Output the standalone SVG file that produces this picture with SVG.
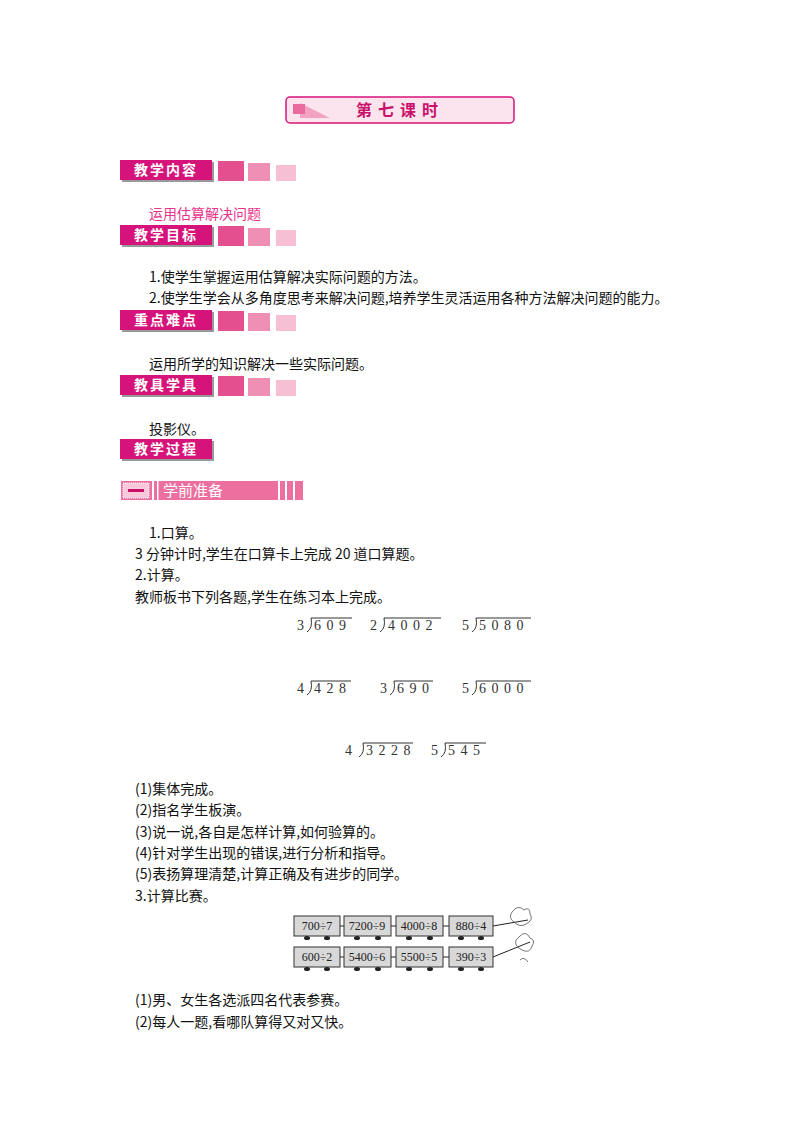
<svg xmlns="http://www.w3.org/2000/svg" width="800" height="1132" viewBox="0 0 800 1132">
<style>
.t{font-family:"Noto Sans CJK SC","Liberation Sans",sans-serif;font-size:14px;fill:#111}
.p{fill:#e8338a}
.lab{font-family:"Noto Sans CJK SC",sans-serif;font-size:14px;fill:#fff;font-weight:bold}
.d{font-family:"Liberation Serif",serif;font-size:14px;fill:#333;letter-spacing:5.5px}
.car{fill:#d8d8d8;stroke:#333;stroke-width:1}
.ct{font-family:"Liberation Serif",serif;font-size:12px;fill:#222}
.dv{fill:none;stroke:#333;stroke-width:1}
</style>
<defs>
<g id="sq"><rect x="0" y="0" width="26" height="20" fill="#e4508f"/><rect x="30" y="2" width="22" height="18" fill="#ee8fb3"/><rect x="58" y="4" width="20" height="16" fill="#f6bfd3"/></g>
<g id="lb"><rect x="2" y="2" width="92" height="20" fill="#999"/><rect x="0" y="0" width="92" height="20" fill="#d6137a"/></g>
</defs>
<g id="title"><rect x="286" y="97" width="228" height="26" rx="4" fill="#fce4ee" stroke="#d6137a" stroke-width="1.5"/>
<path d="M300 103 L330 118 L300 118Z" fill="#f3a2c2"/><rect x="293" y="104" width="12" height="10" fill="#e96b9e"/>
<text x="400" y="116" text-anchor="middle" style="font-family:'Noto Sans CJK SC',sans-serif;font-size:16px;font-weight:bold;fill:#c8106b;letter-spacing:6px">第七课时</text></g>
<g id="h1"><use href="#lb" x="120" y="160"/><text class="lab" x="166" y="175" text-anchor="middle" letter-spacing="2">教学内容</text><use href="#sq" x="218" y="161"/></g>
<text class="t p" x="149" y="219">运用估算解决问题</text>
<g id="h2"><use href="#lb" x="120" y="225"/><text class="lab" x="166" y="240" text-anchor="middle" letter-spacing="2">教学目标</text><use href="#sq" x="218" y="226"/></g>
<text class="t" x="149" y="282">1.使学生掌握运用估算解决实际问题的方法。</text>
<text class="t" x="149" y="303">2.使学生学会从多角度思考来解决问题,培养学生灵活运用各种方法解决问题的能力。</text>
<g id="h3"><use href="#lb" x="120" y="310"/><text class="lab" x="166" y="325" text-anchor="middle" letter-spacing="2">重点难点</text><use href="#sq" x="218" y="311"/></g>
<text class="t" x="149" y="369">运用所学的知识解决一些实际问题。</text>
<g id="h4"><use href="#lb" x="120" y="375"/><text class="lab" x="166" y="390" text-anchor="middle" letter-spacing="2">教具学具</text><use href="#sq" x="218" y="376"/></g>
<text class="t" x="149" y="434">投影仪。</text>
<g id="h5"><use href="#lb" x="120" y="439"/><text class="lab" x="166" y="454" text-anchor="middle" letter-spacing="2">教学过程</text></g>
<g id="h6"><rect x="121" y="481" width="182" height="19" fill="#ec6fa0"/>
<rect x="123" y="483" width="26" height="15" fill="#f7c9db" stroke="#fff" stroke-dasharray="1 1"/><rect x="128" y="489" width="16" height="3" fill="#c8106b"/>
<rect x="152" y="481" width="2" height="19" fill="#fff"/><rect x="157" y="481" width="1.5" height="19" fill="#fff"/>
<rect x="278" y="481" width="2" height="19" fill="#fff"/><rect x="285" y="481" width="2" height="19" fill="#fff"/><rect x="293" y="481" width="2" height="19" fill="#fff"/>
<text x="163" y="496" style="font-family:'Noto Sans CJK SC',sans-serif;font-size:15px;fill:#fff">学前准备</text></g>
<text class="t" x="149" y="538">1.口算。</text>
<text class="t" x="135" y="559">3 分钟计时,学生在口算卡上完成 20 道口算题。</text>
<text class="t" x="135" y="580">2.计算。</text>
<text class="t" x="135" y="602">教师板书下列各题,学生在练习本上完成。</text>
<g id="divs">
<text class="d" x="297" y="630">3</text><path class="dv" d="M311 618 Q313 628 307 632 M311 618 H352"/><text class="d" x="314" y="630">609</text>
<text class="d" x="370" y="630">2</text><path class="dv" d="M384 618 Q386 628 380 632 M384 618 H441"/><text class="d" x="388" y="630">4002</text>
<text class="d" x="462" y="630">5</text><path class="dv" d="M476 618 Q478 628 472 632 M476 618 H531"/><text class="d" x="479" y="630">5080</text>
<text class="d" x="297" y="693">4</text><path class="dv" d="M311 681 Q313 691 307 695 M311 681 H351"/><text class="d" x="314" y="693">428</text>
<text class="d" x="380" y="693">3</text><path class="dv" d="M394 681 Q396 691 390 695 M394 681 H433"/><text class="d" x="397" y="693">690</text>
<text class="d" x="462" y="693">5</text><path class="dv" d="M476 681 Q478 691 472 695 M476 681 H531"/><text class="d" x="479" y="693">6000</text>
<text class="d" x="345" y="755">4</text><path class="dv" d="M363 743 Q365 753 359 757 M363 743 H413"/><text class="d" x="366" y="755">3228</text>
<text class="d" x="431" y="755">5</text><path class="dv" d="M445 743 Q447 753 441 757 M445 743 H486"/><text class="d" x="448" y="755">545</text>
</g>
<text class="t" x="135" y="794">(1)集体完成。</text>
<text class="t" x="135" y="815">(2)指名学生板演。</text>
<text class="t" x="135" y="837">(3)说一说,各自是怎样计算,如何验算的。</text>
<text class="t" x="135" y="858">(4)针对学生出现的错误,进行分析和指导。</text>
<text class="t" x="135" y="879">(5)表扬算理清楚,计算正确及有进步的同学。</text>
<text class="t" x="135" y="901">3.计算比赛。</text>
<g id="train" fill="#222">
<path d="M340 926H344M391 926H396M443 926H449M493 926L528 920M340 957H344M391 957H396M443 957H449M493 957L530 942" stroke="#222" fill="none"/>
<g><rect class="car" x="294" y="916" width="46" height="20"/><rect class="car" x="344" y="916" width="47" height="20"/><rect class="car" x="396" y="916" width="47" height="20"/><rect class="car" x="449" y="916" width="44" height="20"/>
<rect class="car" x="294" y="947" width="46" height="20"/><rect class="car" x="344" y="947" width="47" height="20"/><rect class="car" x="396" y="947" width="47" height="20"/><rect class="car" x="449" y="947" width="44" height="20"/></g>
<text class="ct" x="317" y="930" text-anchor="middle">700÷7</text><text class="ct" x="367" y="930" text-anchor="middle">7200÷9</text><text class="ct" x="419" y="930" text-anchor="middle">4000÷8</text><text class="ct" x="471" y="930" text-anchor="middle">880÷4</text>
<text class="ct" x="317" y="961" text-anchor="middle">600÷2</text><text class="ct" x="367" y="961" text-anchor="middle">5400÷6</text><text class="ct" x="419" y="961" text-anchor="middle">5500÷5</text><text class="ct" x="471" y="961" text-anchor="middle">390÷3</text>
<g><ellipse cx="307" cy="938" rx="3" ry="2"/><ellipse cx="327" cy="938" rx="3" ry="2"/><ellipse cx="357" cy="938" rx="3" ry="2"/><ellipse cx="378" cy="938" rx="3" ry="2"/><ellipse cx="409" cy="938" rx="3" ry="2"/><ellipse cx="430" cy="938" rx="3" ry="2"/><ellipse cx="461" cy="938" rx="3" ry="2"/><ellipse cx="481" cy="938" rx="3" ry="2"/>
<ellipse cx="307" cy="969" rx="3" ry="2"/><ellipse cx="327" cy="969" rx="3" ry="2"/><ellipse cx="357" cy="969" rx="3" ry="2"/><ellipse cx="378" cy="969" rx="3" ry="2"/><ellipse cx="409" cy="969" rx="3" ry="2"/><ellipse cx="430" cy="969" rx="3" ry="2"/><ellipse cx="461" cy="969" rx="3" ry="2"/><ellipse cx="481" cy="969" rx="3" ry="2"/></g>
<path d="M512 912 Q518 904 524 910 Q530 906 530 914 Q534 920 526 924 Q520 928 514 922 Q508 918 512 912Z M520 936 Q526 930 530 938 Q536 940 532 946 Q530 954 522 950 Q514 946 516 940Z M520 960 Q524 956 528 962" fill="none" stroke="#555" stroke-width="0.8"/>
</g>
<text class="t" x="135" y="1005">(1)男、女生各选派四名代表参赛。</text>
<text class="t" x="135" y="1027">(2)每人一题,看哪队算得又对又快。</text>
</svg>
